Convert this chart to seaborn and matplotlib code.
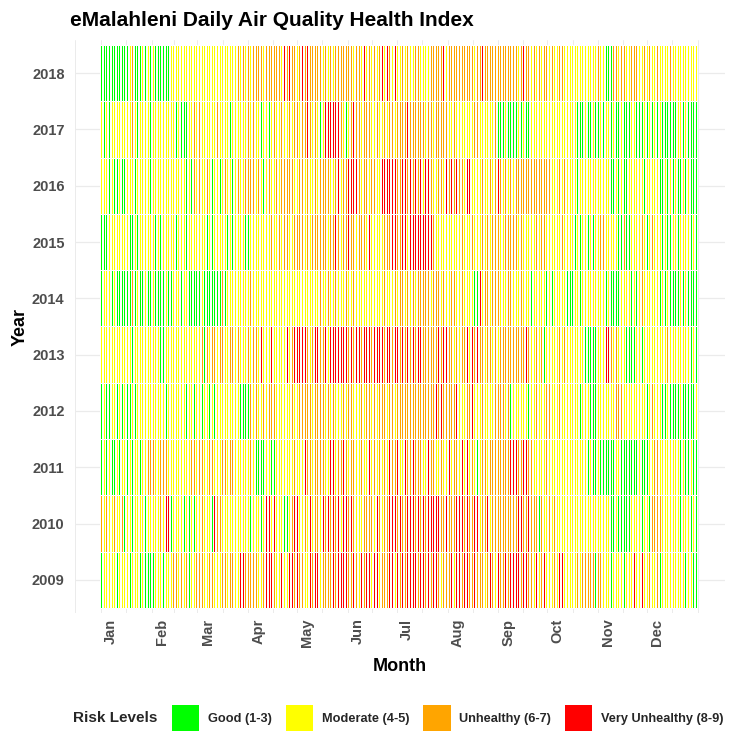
import numpy as np
import pandas as pd
import matplotlib
matplotlib.use("Agg")
import matplotlib.pyplot as plt
import seaborn as sns
from matplotlib.colors import ListedColormap
from matplotlib.patches import Patch

# ---------------- data ----------------
years = [2018, 2017, 2016, 2015, 2014, 2013, 2012, 2011, 2010, 2009]
risk_codes = ["G", "M", "U", "V"]
risk_labels = ["Good (1-3)", "Moderate (4-5)", "Unhealthy (6-7)", "Very Unhealthy (8-9)"]
risk_colors = ["#00FF00", "#FFFF00", "#FFA500", "#FF0000"]
month_labels = ["Jan", "Feb", "Mar", "Apr", "May", "Jun",
                "Jul", "Aug", "Sep", "Oct", "Nov", "Dec"]
month_start_doy = [1, 32, 60, 91, 121, 152, 182, 213, 244, 274, 305, 335]

# daily risk level per year (day 1..365), G=Good M=Moderate U=Unhealthy V=Very Unhealthy
aqhi_2018 = ("GGGGGGGGGG GGGGGGGGMU GGGGGMGGGM GMMGMGGGGM GGGMMGMMMM GMMMMMMMMM "
             "MMMMMMMMMM MMMMMUMMMM MMMMUMMUMM UMMUUUUMUM UUMUUMUUMU MVVUUVMUUV "
             "MUUVMUVVUU VUUMUUMUUM UUMUUUMUUU UUMUMUUMUM UVMUUMMUUM UMVMVVUVMM "
             "VMMMUMMUMM MMUUUMMMMG MUUUUUUVUV VMUUUUUUMU MUUMUUUUMU UUUVMUUMUU "
             "UUVUUMUUVU UMUUUMUUVU UUUMUUMUUM UUUMMUUMUM UMUMMMMMMM MMMMMMMUMM "
             "UMMMUMMMMG GMGUUUMUUU UMUMUMUUMM UMUMMUGMMU UMMMGMMMUM MMUMMMMMMM MMMMM")
aqhi_2017 = ("MMGMGGMMMM MMMMMMMUMU UMGMMMGMMM GMMMMMMMMM MMMMMMGMMG MGGMMMMUMM "
             "UMMMUMMUMM MUMMMMMMGG MMMMMMMMMU UMMUMMMGGM MMMGMMUMUM UUMUMUUMUU "
             "UMUUMUVUUM MUMUGMMVMV VMVVVVUUMU GMVUVMUUUM UUUMUMVMUU MUMUUMUUUU "
             "MUUUUUUVUU UUUUUUUUMU UUUMUUUUUU MUGMMMUMUM UMMUMMUMUM UMMMMMMMMM "
             "UUGGGGGMGG GGGGGMGGMG GGGMGMMMMM MMMMMMMMMM MMMMMMGMMM MGGGGGMGGG "
             "GMGGGMGGMM MGGMGGGGMG GGMGMMMGMG GGMGGMMGMM GMMGGGGMGM GGGMMGGMGG MGGGG")
aqhi_2016 = ("MGMMMGGMGG GMGGGGMMMM MGMMMMMMMM GGMMUMMMMM MMUMMMMMGM GMGGMGGUMM "
             "UUMMMUMMGM UMGGMMUMMM GMMMUMMMUU UUMUMMUMMG MMMUMUMUMM UMUMUUMUMU "
             "MUMUUMUUMM UUMUUUUUMU MUMUUVMMUV UVUVVUVUUM VUUMMUMUUM MVVVUVVUVV "
             "VUVUVVVUVV VUVVUVVMVU VUUMUMUUUM UVUUVMUVUU VUMUVVUMMU MMMUMMMMUM "
             "VUVVUUMUUM UUMUUUMUUU UUMUMUUMUU MUUMUUMMUM UMMUMMUMMM MGMMMGMGMM "
             "MMMMMMGMMM MMGGGMGGMM GGMMMUMMGM GMGMMMGMMG MGGGMMGGMM GMMGGMMGGM MGGMG")
aqhi_2015 = ("GMGGGMMMMM MMMMMMMMGG GMGGMMGMGM MGMGGMGMMM MMMMMMGMMM MMGMMMUMMM "
             "MUMMMGMMGM GMMMMMMGMM GGMMMMGMGG GMMMGMMMMM MMMMUMMMMU MMUMUMMMUM "
             "UUMUUMUUMU UUUMUUUUMM UVUVMUVMUV UVMUUMMMUU MUMUVMVMUM MMMUMUUUVM "
             "VUVUVUVMVV VVVUVVUVVM VUVUMMMMMM MMUMMMMMUM MUMUMMMUMU MUMUMMUUMU "
             "MUMUMUMUUU UMUMUMMUMM MMUMMMUMMU MUMMMUMMMM MMUMMMMMMM GMMGMMMMGM "
             "MGMMMUMUMM MMMMUMGGGM UGGGMUMMUM MUMMGMMUMG MMMGMMGMGG MMGGMGMMGM MGMGG")
aqhi_2014 = ("GGMMUMGGMG GGMGGMGGGU GGMMGGGMGG GGMGMGGMGG MGMGMMMMMG MMMGGGMGGG "
             "GGMGGGGMGG GGMGUMGMMM MMMMMMMMMM MUMMMMMMMM MMMMMMMMMM MMMMMMMMMM "
             "MMMMMMMMMM MMMUUMMMMU MMMUMMUMMM UMMMUMMUMM UMMUMMMMMM MMMUMMMUMM "
             "UMMUUUMUMM MUMUUUMUUU UUMUMUUUMU GMUMUUUMMM MUMMMMGMGM GMVMMUUMMU "
             "MUUUMMMMMU UUMUMMMUMM MMMGMMMMMM MMGMMGGMMM MMMMMGMGGM MMMGMMMMMM "
             "MMMMMMGMMG MGGGMGGMMG MMMMGMMGMM MUMGMMGMMM MMGMGGMGGM GGMGMGGMGG MGGGG")
aqhi_2013 = ("MMMMMMMMMM MMMMMMMMMG GMMUMMMMMM MMMMMMGMGM MMMMMMMMMM UMMUMMUMMG "
             "MMUGUUMMUU MMMUUUMMUU UUMMUMUMMM UMMUMUMUVM VMUMVVMMUM MUMVVMVUVU "
             "VVMVVVUUMU UVVVUVUVVM VVVVVVUVVV VUVVUVVVVU MVVMVUVVVV VVVUVVVVUV "
             "VVVUVVUVVU VVUUVVVUUV UUUUVUVVUV VVVUUVMUVM UUUUVMVVUU VUUUUMUUUM "
             "UUUMUUUUUU UUUUUUMUUU VUUMUMUUMU MGMUMGMMUM UMMUMMMMMU MMMMMMGMGG "
             "MGGGMMGMMV VMUMMUMMMM MGMGGMGMMM GGMUMMGMMM MMMMGMUMMG MMGMMGMMGM MGMGG")
aqhi_2012 = ("GMMGMGMMMG GMGGMGGMGM GGMMMMMMMM MMMMMMMMMM GMMMMMMMMM MMGMMMMGMG "
             "MMGMGMGMMG MMMMMMMMMM MMMMMGUGGM GUGMMUMUMU UMMUUMUMUM MUMUMMUUMU "
             "MUMUMUUUUM UUUUUMUMUU MUUMUMUMUU MUMUMUMUMU UMUMUMUUUM UMUUUMUUUU "
             "MUUUUUUUUU UUUUUUUUUU UUUUVVUVVU VUVUUMUVMM UMMUUUUVMU MMMUMMMMMM "
             "MUMUUUUMMU GMMUMMGMMM MGMMUMUMMM MMUMUMMMMM UMMMMMMMMM MMMGMMMMMG "
             "GGGGMMMMGM MGMMMUUMUM MMGMMUMMMM MMMMGMMUMG MGMGGGMGGG GGGGMGGGMG GGGGM")
aqhi_2011 = ("GGMGGMMGGM MGMMMGGMMG GMMMGMUMMU UMUMUMUMUM UMMMMUMMMM UMMMMUMUMM "
             "UMUMUMUMUM UMUMUMUMUU UMMUMMMMMM MUMMMGGMGG GMMMGMGMMM MGMGMMMMUM "
             "MMMMUVUUUM UUUUUUUMUM VMVMMUMUVM UMMUUVMUMU UMMMVMVUMM UMMUVMVMUM "
             "UVUMMVVUUU VVUUUUVMMU VUUUVMMUUM MMUVMUUUUM UVMUVMUUMU GMMUUUMUUU "
             "UUUUUUUUUU VUVVVUUUVM VUUUMMMMMM MMUMMMMMUM MMMMMMMMMM MMMMMMMMGM "
             "GGGGMGGGMG GMGGGMMGGG GGGGGGGGGM GGGGGMGMUM UMMMMMMGMM MMMMGMMGMG GMGGG")
aqhi_2010 = ("UGMUMMUMUU MMMUGMMMMG MMMMMMMGMM MGMMMMUMMM VVMGMMMMGM MGMMGMMGMM "
             "MMUMMMMMGV MUMUMGMMMM MUMUMMMMMM MGMMGMMGGM MVMVMUVMUM MUGMGMMUVU "
             "VMUMUUMUVM UUUVMVVUMV UUVUVVUMVU VUUVUMMUMM UUUVUUVMUV UVMUVUVUVU "
             "VUUVUMUVUV VVUUVUUVUV VUVVUVVVUU MVVUUVUVUV UVUUVUMUVU VUMUVUVUMU "
             "MUUUUVUUVU UUUVUVUVUU UVUUMUUUGU GMMMUMMUMM MMMMMMMMMM MMMMMMMMMM "
             "MMMMMMGMGM MGGGGMGGGM GGGGMMMMUM GGMUMGMUUM UMUMMMMGMM MMMMGMMMMM MGMMG")
aqhi_2009 = ("GMMMMMMMMG GMMMMMMGGM GMMMGMMGMG GMGMMMMMGM MMMMUMUMMU UMUMGMUMUM "
             "UMUMUMUMUM UMUMUMUMUU UUMUMVUVUM UUMUVUMUMU MVMVVVUMUM VMMVMVMVUM "
             "VUMUVMMUVU UVVUMVUUMU UVVUMVUVVU VUVUVUUVMV MUVUVMUVUV MVUUVUVUVU "
             "MVVUVVUVVV VVVVUVVVUV VUUVVVUVMU VUVUVUMVUV UUVUVUVUVM UMUUVMUUVU "
             "VMUVUVUVUU VUVUVVUUVU VUVUVMVMMU MVMMMMMUUM VMVMMMMMMM MUMMUMUMUU "
             "UUGMUUMMMM MMGMUMMMMM GMMMMUVMVM VVMMMUMMMM UMGMMMMMMM MMVMMMMGMM MMGGG")

series = [aqhi_2018, aqhi_2017, aqhi_2016, aqhi_2015, aqhi_2014,
          aqhi_2013, aqhi_2012, aqhi_2011, aqhi_2010, aqhi_2009]
code_index = {c: i for i, c in enumerate(risk_codes)}
matrix = [[code_index[ch] for ch in s.replace(" ", "")] for s in series]
df = pd.DataFrame(matrix, index=years, columns=np.arange(1, len(matrix[0]) + 1))

# ---------------- plot ----------------
sns.set_theme(style="white")
plt.rcParams["font.family"] = ["Liberation Sans", "DejaVu Sans"]

fig = plt.figure(figsize=(7.36, 7.5), dpi=100)
ax = fig.add_axes([75 / 736, 1 - 613 / 750, 650 / 736, 573 / 750])

sns.heatmap(df, cmap=ListedColormap(risk_colors), vmin=-0.5, vmax=3.5,
            cbar=False, linewidths=0.45, linecolor="white", antialiased=False,
            xticklabels=False, yticklabels=False, ax=ax)

ndays = df.shape[1]
ax.set_xlim(-15.3, ndays + 17.1)
ax.set_ylim(len(years) + 0.09, -0.09)

# gridlines at month starts and mid-months (minor ticks); labels as major ticks
month_x = [d - 0.5 for d in month_start_doy] + [ndays + 0.5]
mid_x = [-15.0] + [(a + b) / 2 for a, b in zip(month_x[:-1], month_x[1:])]
label_x = [x + 2.0 for x in month_x[:-1]]
ax.set_xticks(sorted(month_x + mid_x), minor=True)
ax.set_xticks(label_x)
ax.set_xticklabels(month_labels, rotation=90, ha="left",
                   fontsize=10.5, fontweight="bold", color="#4D4D4D")
ax.set_yticks(np.arange(len(years)) + 0.5)
ax.set_yticklabels([str(y) for y in years], rotation=0,
                   fontsize=10.5, fontweight="bold", color="#4D4D4D")
ax.tick_params(axis="both", which="both", length=0)
ax.tick_params(axis="x", pad=4)
ax.tick_params(axis="y", pad=7.5)

ax.set_axisbelow(True)
ax.grid(True, which="major", axis="y", color="#EBEBEB", linewidth=0.9)
ax.grid(True, which="minor", axis="x", color="#EBEBEB", linewidth=0.7)
ax.grid(False, which="major", axis="x")
for sp in ax.spines.values():
    sp.set_visible(False)

ax.set_xlabel("Month", fontsize=13, fontweight="bold", color="black")
ax.set_ylabel("Year", fontsize=13, fontweight="bold", color="black")
ax.xaxis.set_label_coords(0.5, -(665 - 613) / 573 + 0.012)
ax.yaxis.set_label_coords((29 - 75) / 650, 0.5)

fig.text(70 / 736, 1 - 20 / 750, "eMalahleni Daily Air Quality Health Index",
         fontsize=15, fontweight="bold", ha="left", va="center", color="black")

handles = [Patch(facecolor=c, edgecolor="none", label=l)
           for c, l in zip(risk_colors, risk_labels)]
fig.text(73 / 736, 1 - 718 / 750, "Risk Levels", fontsize=11,
         fontweight="bold", ha="left", va="center")
fig.legend(handles=handles, loc="center left",
           bbox_to_anchor=(172 / 736, 1 - 718 / 750), ncol=4, frameon=False,
           prop={"weight": "bold", "size": 9.2}, handlelength=2.15,
           handleheight=2.8, handletextpad=0.7, columnspacing=1.05,
           borderpad=0, borderaxespad=0)

fig.savefig("out.png", dpi=100)
